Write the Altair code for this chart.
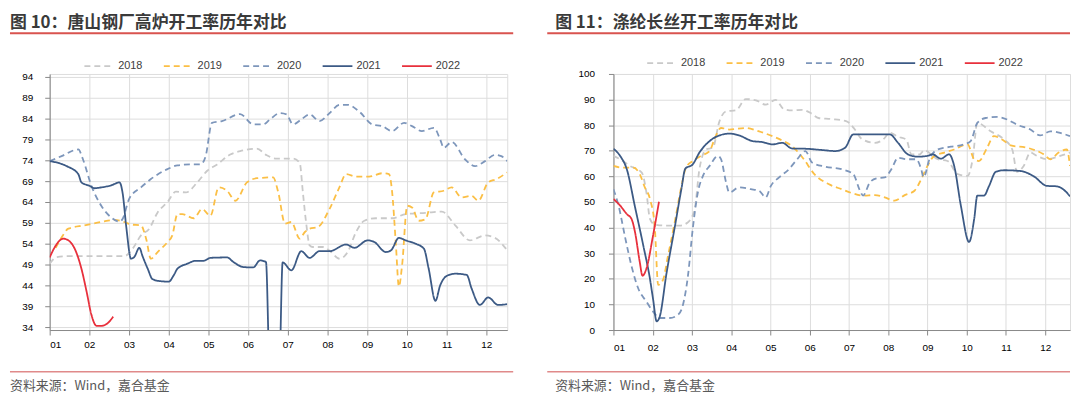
import altair as alt
import pandas as pd

YEARS = ["2018", "2019", "2020", "2021", "2022"]
COLORS = ["#c9c9c9", "#fbbf45", "#7d96bb", "#3c5a85", "#e8303c"]
DASHES = [[6, 4], [6, 4], [6, 4], [1, 0], [1, 0]]
WIDTHS = [1.8, 1.8, 1.8, 2.4, 3.0]
MONTH_LABELS = ["01", "02", "03", "04", "05", "06", "07", "08", "09", "10", "11", "12"]

LEFT_TITLE = "图 10：唐山钢厂高炉开工率历年对比"
RIGHT_TITLE = "图 11：涤纶长丝开工率历年对比"
SOURCE = "资料来源：Wind，嘉合基金"
LEFT_Y_TICKS = [34, 39, 44, 49, 54, 59, 64, 69, 74, 79, 84, 89, 94]
RIGHT_Y_TICKS = [0, 10, 20, 30, 40, 50, 60, 70, 80, 90, 100]

# ---------------- left panel: 唐山钢厂高炉开工率 (x = month position) ----------------
L2018_x = [1.0, 1.18, 1.47, 2.3, 2.88, 3.09, 3.3, 3.51, 3.72, 3.97, 4.18, 4.43, 4.72, 4.97, 5.22,
           5.55, 5.8, 6.22, 6.47, 6.72, 7.13, 7.3, 7.38, 7.47, 7.55, 7.63, 7.88, 8.09, 8.3, 8.51,
           8.72, 8.93, 9.22, 9.63, 9.97, 10.47, 10.88, 11.22, 11.59, 11.97, 12.22, 12.53]
L2018_y = [49.2, 50.8, 51, 51, 51, 52.8, 56, 57.6, 61.5, 64, 66.5, 66.3, 68.7, 71.5, 73,
           75.4, 76.2, 76.8, 75.2, 74.4, 74.4, 73.4, 66.3, 58.4, 53.6, 53.2, 53.2, 52, 50.4, 52,
           56.8, 59.5, 60.1, 60.1, 61.1, 61.4, 61.7, 58.4, 54.8, 56, 55.4, 52.4]

L2019_x = [1.15, 1.3, 1.47, 1.88, 2.3, 2.63, 2.88, 3.05, 3.3, 3.43, 3.55, 3.72, 3.97, 4.09, 4.22,
           4.34, 4.63, 4.84, 5.05, 5.26, 5.47, 5.68, 5.97, 6.22, 6.63, 6.76, 6.93, 7.09, 7.3, 7.43,
           7.55, 7.76, 8.05, 8.3, 8.47, 8.72, 9.05, 9.38, 9.55, 9.63, 9.72, 9.8, 9.88, 10.01, 10.13,
           10.3, 10.47, 10.68, 10.93, 11.13, 11.38, 11.63, 11.8, 12.05, 12.26, 12.53]
L2019_y = [53, 55.5, 57.6, 58.4, 59.2, 59.7, 59.2, 58.6, 58.4, 55.2, 50.4, 52, 54.4, 56, 61.1,
           61.1, 60.1, 62.3, 60.7, 67.5, 66.7, 64.3, 68.7, 69.7, 69.9, 66.3, 58.8, 59.2, 55.2, 56.8,
           57.6, 58, 62.3, 67.5, 70.7, 70.1, 70.1, 70.9, 70.7, 66.3, 54.4, 43.7, 48.8, 63.1, 62.7,
           59.5, 59.9, 66.3, 66.7, 67.5, 65.1, 65.5, 64.3, 68.7, 69.5, 71.1]

L2020_x = [1.0, 1.3, 1.72, 1.84, 2.05, 2.3, 2.55, 2.76, 2.84, 3.0, 3.3, 3.55, 3.97, 4.22, 4.55,
           4.8, 4.93, 5.09, 5.34, 5.8, 6.13, 6.38, 6.55, 6.8, 6.97, 7.13, 7.34, 7.55, 7.8, 8.05,
           8.3, 8.51, 8.8, 9.13, 9.38, 9.63, 9.93, 10.13, 10.38, 10.68, 10.84, 10.93, 11.13, 11.47, 11.72,
           11.97, 12.22, 12.38, 12.53]
L2020_y = [73.8, 75, 76.6, 74.2, 67.9, 63.1, 60.3, 59.3, 60, 64.7, 67.5, 69.5, 71.9, 72.8, 73,
           73, 75, 83, 83.4, 85.1, 82.6, 82.6, 83.8, 85.3, 85, 82.6, 83.8, 85, 83.4, 85.3,
           87.3, 87.3, 85.7, 82.6, 82.2, 81, 83, 82.2, 81, 81.8, 79, 77, 78.4, 74.2, 72.6,
           73.8, 75.3, 75, 73.8]

L2021_x = [1.0, 1.43, 1.72, 1.8, 2.0, 2.13, 2.3, 2.55, 2.76, 2.84, 2.93, 3.05, 3.13, 3.26, 3.34,
           3.47, 3.59, 3.8, 4.0, 4.13, 4.22, 4.47, 4.68, 4.88, 5.05, 5.47, 5.63, 5.88, 6.13, 6.3,
           6.45, 6.55, 6.78, 6.87, 7.09, 7.34, 7.55, 7.8, 8.05, 8.47, 8.68, 9.01, 9.18, 9.47, 9.6,
           9.8, 9.97, 10.22, 10.43, 10.55, 10.72, 10.84, 11.01, 11.22, 11.51, 11.63, 11.84, 12.05, 12.3, 12.53]
L2021_y = [73.8, 72.6, 70.7, 68.7, 67.9, 67.3, 67.5, 68.0, 68.7, 66, 58, 50.4, 50.8, 53, 51,
           48, 45.5, 45.0, 44.9, 46.5, 48, 49.2, 49.9, 49.9, 50.6, 50.7, 49.6, 48.4, 48.3, 50,
           49.6, 22, 22, 49.5, 47.6, 52.2, 50.6, 52.2, 52.2, 53.8, 53, 54.8, 54.4, 52, 52.4,
           55.4, 54.8, 54, 52.8, 48, 40.3, 44, 46.3, 46.8, 46.5, 43.3, 39.3, 41.1, 39.3, 39.5]

L2022_x = [1.0, 1.13, 1.34, 1.47, 1.63, 1.8, 1.93, 2.05, 2.18, 2.3, 2.47, 2.6]
L2022_y = [50.7, 53.2, 55.2, 54.8, 52.8, 48, 42.5, 37, 34.3, 34.3, 35, 36.5]

# ---------------- right panel: 涤纶长丝开工率 ----------------
R2018_x = [1.0, 1.17, 1.42, 1.72, 1.84, 1.93, 2.05, 2.35, 2.69, 2.9, 3.07, 3.19, 3.36, 3.53, 3.7,
           3.87, 4.12, 4.37, 4.63, 4.88, 5.13, 5.34, 5.55, 5.81, 6.05, 6.22, 6.56, 6.94, 7.15, 7.32,
           7.66, 7.87, 8.04, 8.25, 8.46, 8.59, 8.8, 8.92, 9.09, 9.26, 9.51, 9.77, 10.02, 10.15, 10.27,
           10.61, 10.95, 11.16, 11.28, 11.45, 11.62, 11.79, 12.04, 12.38, 12.63]
R2018_y = [68, 66.7, 64.1, 61.5, 53.7, 43.4, 41.2, 40.8, 40.8, 42.1, 47.3, 62.8, 70.5, 71.2, 81.5,
           85.4, 85.8, 90.2, 89.7, 88, 89.9, 86.3, 85.8, 86, 84.5, 82.8, 82.4, 81.5, 78.3, 74.7,
           73.1, 74.4, 77, 75.5, 74.4, 68.6, 68.6, 70.3, 68.6, 66.7, 66, 60.9, 60.2, 66.7, 80.9,
           77.6, 74.4, 70.5, 61.8, 64.1, 69.3, 68, 66.7, 68, 69.3]

R2019_x = [1.0, 1.25, 1.51, 1.67, 1.8, 1.93, 2.05, 2.14, 2.26, 2.39, 2.56, 2.73, 2.85, 3.02, 3.23,
           3.45, 3.57, 3.74, 3.95, 4.37, 4.71, 5.05, 5.3, 5.55, 5.85, 6.1, 6.48, 6.81, 7.07, 7.36,
           7.66, 7.91, 8.16, 8.42, 8.67, 8.84, 9.0, 9.17, 9.43, 9.68, 10.02, 10.19, 10.31, 10.52, 10.69,
           10.9, 11.12, 11.54, 11.96, 12.13, 12.34, 12.55, 12.63]
R2019_y = [64.1, 63.4, 63.4, 60.9, 55.7, 51.2, 40.8, 17.6, 19.5, 29, 42, 56, 63.5, 66, 68,
           69.9, 74.4, 78.9, 78.3, 78.9, 77.6, 75.7, 74, 71.8, 66.7, 61.2, 57, 55, 53.5, 52.5,
           52.7, 51.8, 50.5, 52.7, 54.4, 58.9, 64.1, 68, 69.3, 70.5, 72.5, 66.7, 66, 71.2, 75.7,
           74.4, 72.1, 71.2, 68.6, 66.7, 69.3, 70.5, 64.1]

R2020_x = [1.0, 1.13, 1.3, 1.46, 1.63, 1.84, 2.01, 2.18, 2.43, 2.64, 2.77, 2.9, 3.02, 3.15, 3.28,
           3.45, 3.66, 3.74, 3.87, 3.95, 4.2, 4.5, 4.71, 4.88, 5.01, 5.22, 5.47, 5.68, 5.89, 6.06,
           6.39, 6.81, 7.11, 7.28, 7.36, 7.53, 7.7, 7.91, 8.08, 8.25, 8.46, 8.71, 8.84, 8.9, 9.05,
           9.26, 9.6, 9.93, 10.1, 10.27, 10.48, 10.78, 11.03, 11.28, 11.62, 11.87, 12.13, 12.38, 12.63]
R2020_y = [55, 48.6, 36, 25, 16.3, 11.1, 7.2, 4.7, 4.7, 5.9, 9.8, 21.4, 39.5, 53.7, 60.2,
           64.1, 68, 66.7, 57.6, 53.7, 55.7, 55, 54.4, 51.8, 56.3, 59.6, 62.8, 66.7, 69.9, 65.4,
           63.8, 62.8, 60.9, 54.4, 52.5, 57.6, 59.2, 59.6, 62.8, 67.3, 66.7, 66.7, 62.8, 59.6, 66.7,
           70.5, 71.6, 72.5, 73.8, 80.9, 82.8, 83.2, 82.2, 80.2, 78.3, 76, 77.6, 77, 75.7]

R2021_x = [1.0, 1.17, 1.34, 1.55, 1.76, 1.93, 2.01, 2.1, 2.18, 2.35, 2.56, 2.73, 2.83, 3.02, 3.19,
           3.45, 3.7, 3.95, 4.2, 4.54, 4.79, 5.05, 5.3, 5.55, 5.89, 6.31, 6.65, 6.9, 7.11, 7.57,
           8.04, 8.25, 8.5, 8.75, 9.0, 9.13, 9.34, 9.55, 9.68, 9.85, 10.06, 10.19, 10.27, 10.44, 10.57,
           10.74, 10.95, 11.37, 11.71, 12.04, 12.3, 12.5, 12.63]
R2021_y = [70.8, 68, 62.8, 48, 33, 20, 12, 3.4, 5.3, 22, 40, 55, 63, 64.7, 69.3,
           73.8, 76, 76.7, 76, 73.8, 73.4, 72.5, 73.1, 70.9, 70.8, 70.3, 69.9, 71.2, 76.4, 76.4,
           76.4, 73.1, 68.6, 67.7, 68, 68.6, 66.9, 68.6, 64.1, 48.6, 34.4, 43.4, 52.5, 52.5, 56.3,
           61.8, 62.4, 62.1, 60, 56.3, 56.1, 54.4, 52.2]

R2022_x = [1.0, 1.17, 1.34, 1.46, 1.55, 1.67, 1.74, 1.84, 2.01, 2.16]
R2022_y = [51.2, 48.6, 45.3, 43.4, 38.2, 26.6, 21.2, 24, 37, 50.1]

LABEL_FONT = "Liberation Sans"
CJK_FONT = "Noto Sans CJK SC"


def frame(series):
    rows = []
    for year, (xs, ys) in series.items():
        assert len(xs) == len(ys), year
        for x, y in zip(xs, ys):
            rows.append({"year": year, "m": x, "v": y})
    return pd.DataFrame(rows)


left_df = frame({"2018": (L2018_x, L2018_y), "2019": (L2019_x, L2019_y), "2020": (L2020_x, L2020_y),
                 "2021": (L2021_x, L2021_y), "2022": (L2022_x, L2022_y)})
right_df = frame({"2018": (R2018_x, R2018_y), "2019": (R2019_x, R2019_y), "2020": (R2020_x, R2020_y),
                  "2021": (R2021_x, R2021_y), "2022": (R2022_x, R2022_y)})

month_expr = "[" + ",".join("'" + s + "'" for s in MONTH_LABELS) + "][datum.value - 1]"


def text_layer(txt, x, y, size, weight, color):
    return alt.Chart(pd.DataFrame({"t": [txt]})).mark_text(
        align="left", baseline="top", fontSize=size, fontWeight=weight, color=color, font=CJK_FONT
    ).encode(text="t:N", x=alt.value(x), y=alt.value(y))


def rule_layer(x1, x2, y, color, width):
    return alt.Chart(pd.DataFrame({"a": [0]})).mark_rule(color=color, strokeWidth=width).encode(
        x=alt.value(x1), x2=alt.value(x2), y=alt.value(y))


# Both plot areas start at page y = 74 (origins are aligned by the concat layout).
TOP = 74


def panel(df, title, ydomain, yticks, xmax, w, h, left_x, title_x, rule_end,
          legend_x, legend_y, ypad, xpad):
    leg = alt.Legend(title=None, orient="none", legendX=legend_x, legendY=legend_y,
                     direction="horizontal", symbolType="stroke", symbolSize=900,
                     labelFontSize=11, labelColor="#404040", labelFont=LABEL_FONT,
                     columnPadding=17, labelOffset=3, padding=0)
    lines = alt.Chart(df).mark_line(interpolate="monotone", clip=True).encode(
        x=alt.X("m:Q", scale=alt.Scale(domain=[1, xmax], nice=False, zero=False),
                axis=alt.Axis(values=list(range(1, 13)), labelExpr=month_expr, title=None,
                              labelPadding=xpad)),
        y=alt.Y("v:Q", scale=alt.Scale(domain=ydomain, nice=False, zero=False),
                axis=alt.Axis(values=yticks, title=None, labelPadding=ypad)),
        color=alt.Color("year:N", scale=alt.Scale(domain=YEARS, range=COLORS), legend=leg),
        strokeDash=alt.StrokeDash("year:N", scale=alt.Scale(domain=YEARS, range=DASHES), legend=leg),
        strokeWidth=alt.StrokeWidth("year:N", scale=alt.Scale(domain=YEARS, range=WIDTHS), legend=leg),
    )
    return alt.layer(
        lines,
        text_layer(title, title_x, 15 - TOP, 17, "bold", "#3a3a3a"),
        rule_layer(left_x, rule_end, 33 - TOP, "#d9534f", 2),
        rule_layer(left_x, rule_end, 374 - TOP, "#e08a8a", 1.5),
        text_layer(SOURCE, title_x, 382 - TOP, 13, "normal", "#595959"),
    ).properties(width=w, height=h)


# left: 34..94 spans page y 77..329; the plot box is 74..332 (3px extra each side)
pad = 3 * 60 / 252
left = panel(left_df, LEFT_TITLE, [34 - pad, 94 + pad], LEFT_Y_TICKS, 12.53, 461, 258,
             -40, -40, 467, 34, -24, 12, 5)
right = panel(right_df, RIGHT_TITLE, [0, 100], RIGHT_Y_TICKS, 1 + 460 / 39.55, 460, 258,
              -66.7, -58.7, 460, 33, -27, 14, 8)

chart = alt.hconcat(left, right, spacing=30).resolve_scale(
    color="independent", strokeDash="independent", strokeWidth="independent"
).resolve_legend(
    color="independent", strokeDash="independent", strokeWidth="independent"
).properties(
    padding={"left": 0, "top": 4, "right": 0, "bottom": 0}
).configure_view(stroke="#e3e3e3", strokeWidth=1).configure_axis(
    domain=False, ticks=False, grid=False, labelFont=LABEL_FONT, labelFontSize=11,
    labelColor="#404040"
).configure(background="white")

chart.save("out.html", embed_options={"renderer": "svg", "actions": False})
